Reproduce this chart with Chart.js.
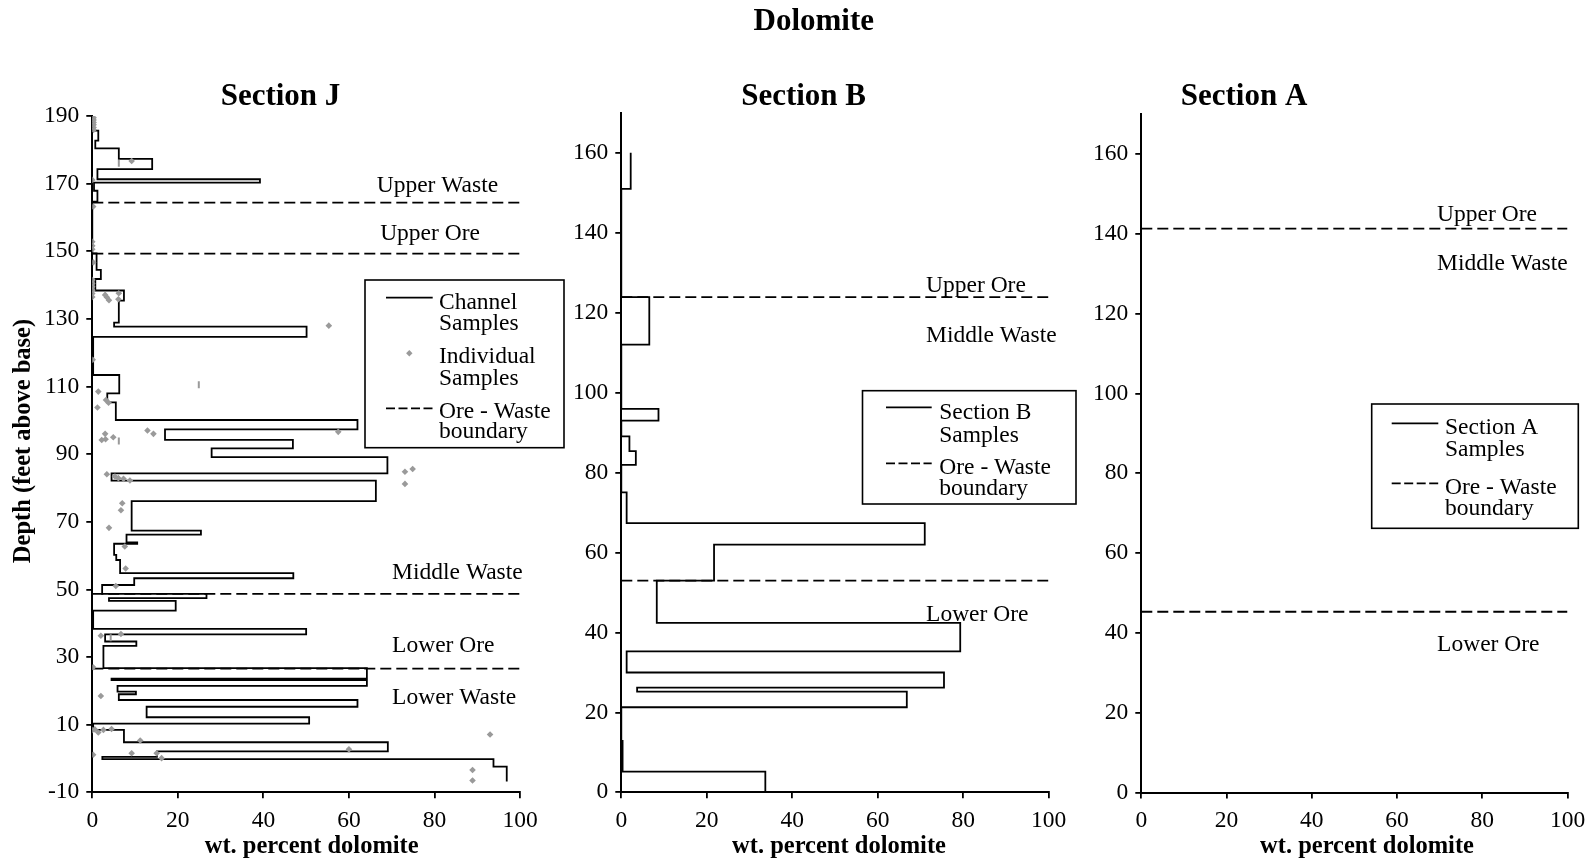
<!DOCTYPE html>
<html>
<head>
<meta charset="utf-8">
<title>Dolomite</title>
<script src="https://cdn.jsdelivr.net/npm/chart.js@4.4.1/dist/chart.umd.min.js"></script>
<style>
  html, body { margin: 0; padding: 0; background: #fff; }
  #wrap { position: relative; width: 1595px; height: 865px; overflow: hidden; background: #fff; }
  #wrap canvas { position: absolute; left: 0; top: 0; }
</style>
</head>
<body>
<div id="wrap">
  <canvas id="chartJ" width="1595" height="865"></canvas>
  <canvas id="chartB" width="1595" height="865"></canvas>
  <canvas id="chartA" width="1595" height="865"></canvas>
</div>
<script>
// ---------------- Section J ----------------
// Channel samples: interval breaks (feet above base, top to bottom) and wt.% dolomite of each interval
const jBreaks = [190, 185.7, 182.7, 180.4, 177.3, 174.3, 171.3, 170.3, 167.9, 164.7,
  149.4, 144.5, 141.8, 138.4, 135.4, 128.9, 127.7, 124.7, 113.4, 108,
  105.3, 100.1, 97.3, 94.2, 91.7, 89.1, 84.3, 82.2, 76.1, 67.4,
  66.2, 63.9, 63.5, 60.2, 58.7, 54.8, 53.3, 51.3, 48.7, 47.4,
  46.6, 43.7, 38.3, 36.7, 34.6, 33.3, 26.7, 23.6, 23.2, 21.5,
  19.8, 19.0, 17.3, 15.3, 12.2, 10.3, 8.45, 4.8, 2.1, 0.5,
  -0.2, -2.4, -6.8];
const jDolomite = [0, 1.4, 0.7, 6.2, 14, 1.2, 39.2, 0.4, 1.2, 0,
  1.0, 2.0, 0.7, 7.4, 6.2, 5.1, 50.1, 0.2, 6.3, 3.5,
  5.5, 62, 17, 46.9, 27.9, 69, 4.5, 66.3, 9.2, 25.4,
  8, 10.5, 5.1, 5.6, 6.5, 47, 9.8, 2.3, 26.7, 3.9,
  19.5, 0.2, 50, 3, 10.3, 2.6, 64.2, 4.5, 64.2, 5.9,
  10.2, 6.2, 62, 12.7, 50.7, 0.2, 7.4, 69.1, 15.1, 2.35,
  93.8, 96.9];
// Individual samples
const jSampleDolomite = [0.3, 0.3, 0.3, 0.3, 0.3, 0.3, 9.2, 0, 0.2, 0, 0, 0, 0.2,
  0, 0, 0, 0, 0, 0, 3, 3.4, 3.9, 6.2, 6.1, 55.3,
  0.1, 1.4, 1.2, 3.2, 3.8, 12.9, 14.3, 57.5, 2.2, 3.1, 3, 4.9,
  73.1, 74.9, 73.1, 3.4, 5.3, 6.1, 7.3, 8.8,
  7, 6.7, 3.9, 7.6, 7.8, 5.5, 2, 6.7, 0.2, 2,
  0, 0.6, 1.4, 2.6, 4.5, 11.2, 93, 60, 0.2, 9.2, 15.05, 16.2, 88.9, 88.9];
const jSampleDepth = [189.5, 188.8, 188.1, 187.4, 186.6, 185.9, 176.7, 171.1, 163.2, 152.8, 151.6, 150.6, 146.7,
  141.5, 140.5, 139.5, 138.5, 137.5, 136.5, 137.1, 136.4, 135.5, 137.6, 135.8, 128,
  117.9, 108.5, 103.8, 106, 105.2, 97, 96, 96.6, 94.2, 94.4, 96, 95,
  84.8, 85.6, 81.2, 84.05, 83.4, 82.9, 82.7, 82.2,
  75.5, 73.4, 68.2, 62.7, 56.2, 51, 36.3, 36.8, 27, 18.5,
  8.4, 8.6, 7.7, 8.45, 8.7, 5.3, 7.1, 2.7, 1.1, 1.55, 1.55, 0.1, -3.4, -6.5];
// Samples plotted with a bar marker
const jBarDolomite = [6.2, 24.9, 6.2, 4.3];
const jBarDepth = [176, 110.5, 93.9, 35.7];
// Ore - waste boundaries
const jBoundaries = [164.4, 149.3, 48.7, 26.6];
const jZones = ['Upper Waste', 'Upper Ore', 'Middle Waste', 'Lower Ore', 'Lower Waste'];

// ---------------- Section B ----------------
const bBreaks = [160.1, 151.1, 124, 112.1, 96, 93.05, 89.1, 85.4, 82.0, 75.1, 67.4,
  62, 53, 42.4, 35.3, 30, 26.2, 25.2, 21.3, 12.9, 5.2, 0];
const bDolomite = [2.2, 0, 6.55, 0, 8.7, 0, 1.9, 3.4, 0, 1.25,
  71, 21.7, 8.3, 79.3, 1.25, 75.5, 3.7, 66.8, 0, 0.3, 33.7];
const bBoundaries = [124, 53];
const bZones = ['Upper Ore', 'Middle Waste', 'Lower Ore'];

// ---------------- Section A ----------------
const aBreaks = [];
const aDolomite = [];
const aBoundaries = [141.3, 45.3];
const aZones = ['Upper Ore', 'Middle Waste', 'Lower Ore'];

const xTicks = { min: 0, max: 100, step: 20 };

// ---------------- styling ----------------
const SERIF = '"Liberation Serif", "Times New Roman", serif';
const TITLE_FONT = 'bold 31px ' + SERIF;
const AXIS_TITLE_FONT = 'bold 24.5px ' + SERIF;
const LABEL_FONT = '23.5px ' + SERIF;
const GREY = '#9a9a9a';

// builds the vertical step profile from interval breaks and values
function profile(breaks, values) {
  const pts = [];
  values.forEach((v, i) => {
    pts.push({ x: v, y: breaks[i] });
    pts.push({ x: v, y: breaks[i + 1] });
  });
  return pts;
}
function pairs(xs, ys) { return xs.map((x, i) => ({ x: x, y: ys[i] })); }

function boundaryDatasets(levels) {
  return levels.map(d => ({
    type: 'line', showLine: true, data: [{ x: xTicks.min, y: d }, { x: xTicks.max, y: d }],
    borderColor: '#000', borderWidth: 1.8, borderDash: [11, 5], pointRadius: 0, fill: false, order: 3
  }));
}
function profileDataset(breaks, values) {
  return {
    type: 'line', showLine: true, data: profile(breaks, values),
    borderColor: '#000', borderWidth: 1.8, pointRadius: 0, fill: false, tension: 0, order: 2
  };
}

// annotation plugin: titles, zone labels and the boxed key
function decor(cfg) {
  return {
    id: 'decor',
    afterDraw(chart) {
      const ctx = chart.ctx;
      const xs = chart.scales.x, ys = chart.scales.y;
      ctx.save();
      ctx.fillStyle = '#000';
      ctx.textBaseline = 'alphabetic';
      cfg.texts.forEach(t => {
        ctx.save();
        ctx.font = t.font;
        ctx.textAlign = t.align || 'center';
        ctx.translate(t.x, t.y);
        if (t.rot) ctx.rotate(t.rot);
        ctx.fillText(t.text, 0, 0);
        ctx.restore();
      });
      ctx.font = LABEL_FONT;
      ctx.textAlign = 'left';
      cfg.zones.forEach((name, i) => {
        const a = cfg.zoneAt[i];
        ctx.fillText(name, xs.getPixelForValue(a[0]), ys.getPixelForValue(a[1]));
      });
      const L = cfg.legend;
      ctx.strokeStyle = '#000';
      ctx.lineWidth = 1.6;
      ctx.strokeRect(L.box[0], L.box[1], L.box[2] - L.box[0], L.box[3] - L.box[1]);
      L.items.forEach(it => {
        if (it.kind === 'point') {
          const r = 3.2;
          ctx.fillStyle = GREY;
          ctx.beginPath();
          ctx.moveTo(it.cx, it.y - r); ctx.lineTo(it.cx + r, it.y);
          ctx.lineTo(it.cx, it.y + r); ctx.lineTo(it.cx - r, it.y);
          ctx.closePath(); ctx.fill();
          ctx.fillStyle = '#000';
        } else {
          ctx.lineWidth = 1.8;
          ctx.setLineDash(it.kind === 'dash' ? [9, 3.5] : []);
          ctx.beginPath();
          ctx.moveTo(L.x1, it.y); ctx.lineTo(L.x2, it.y);
          ctx.stroke();
          ctx.setLineDash([]);
        }
        ctx.font = LABEL_FONT;
        ctx.textAlign = 'left';
        it.lines.forEach((s, k) => ctx.fillText(s, L.tx, it.base[k]));
      });
      ctx.restore();
    }
  };
}

function axes(yMin, yMax, yStep) {
  const tickFont = { family: SERIF, size: 23.5 };
  const common = {
    type: 'linear',
    grid: { display: true, drawOnChartArea: false, drawTicks: true, tickLength: 6, color: '#000', lineWidth: 1.8 },
    border: { display: true, color: '#000', width: 2 }
  };
  return {
    x: Object.assign({}, common, {
      position: 'bottom', min: xTicks.min, max: xTicks.max, bounds: 'data',
      ticks: { stepSize: xTicks.step, font: tickFont, color: '#000', padding: 8, maxRotation: 0, autoSkip: false },
      afterFit: s => { s.height = 60; }
    }),
    y: Object.assign({}, common, {
      position: 'left', min: yMin, max: yMax, bounds: 'data',
      ticks: { stepSize: yStep, font: tickFont, color: '#000', padding: 7, autoSkip: false },
      // keep only ticks on the regular step grid counted from the axis minimum
      afterBuildTicks: s => { s.ticks = s.ticks.filter(t => Math.abs((t.value - yMin) % yStep) < 1e-6); },
      afterFit: s => { s.width = 80; }
    })
  };
}

function layoutFor(area) {
  return { padding: { left: area.l - 80, right: 1595 - area.r, top: area.t, bottom: 865 - area.b - 60 } };
}

function makeChart(id, area, datasets, yMin, yMax, deco) {
  return new Chart(document.getElementById(id), {
    type: 'scatter',
    data: { datasets: datasets },
    options: {
      responsive: false, animation: false, events: [],
      layout: layoutFor(area),
      scales: axes(yMin, yMax, 20),
      plugins: { legend: { display: false }, tooltip: { enabled: false }, title: { display: false } }
    },
    plugins: [decor(deco)]
  });
}

// ---------- Section J ----------
const areaJ = { l: 92.3, r: 520, t: 116, b: 792.3 };
makeChart('chartJ', areaJ, [
  { data: pairs(jSampleDolomite, jSampleDepth), pointStyle: 'rectRot', pointRadius: 3.3,
    backgroundColor: GREY, borderColor: GREY, borderWidth: 0, order: 1 },
  { data: pairs(jBarDolomite, jBarDepth), pointStyle: 'line', rotation: 90, pointRadius: 3.5,
    borderColor: GREY, borderWidth: 2, order: 1 },
  profileDataset(jBreaks, jDolomite)
].concat(boundaryDatasets(jBoundaries)), -10, 190, {
  texts: [
    { text: 'Dolomite', x: 813.8, y: 30, font: TITLE_FONT },
    { text: 'Section J', x: 280.5, y: 105, font: TITLE_FONT },
    { text: 'wt. percent dolomite', x: 311.7, y: 853, font: AXIS_TITLE_FONT },
    { text: 'Depth (feet above base)', x: 30, y: 441, font: AXIS_TITLE_FONT, rot: -Math.PI / 2 }
  ],
  zones: jZones,
  zoneAt: [[66.5, 167.6], [67.3, 153.3], [70.1, 53.1], [70.1, 31.6], [70.1, 16.1]],
  legend: {
    box: [365, 280, 564, 447.7], x1: 386, x2: 432.7, tx: 439,
    items: [
      { kind: 'line', y: 297.7, lines: ['Channel', 'Samples'], base: [309.3, 330] },
      { kind: 'point', cx: 409.3, y: 353.3, lines: ['Individual', 'Samples'], base: [363.3, 385] },
      { kind: 'dash', y: 408.3, lines: ['Ore - Waste', 'boundary'], base: [418.3, 438.3] }
    ]
  }
});

// ---------- Section B ----------
const areaB = { l: 621.3, r: 1048.7, t: 113.3, b: 792.3 };
makeChart('chartB', areaB, [profileDataset(bBreaks, bDolomite)].concat(boundaryDatasets(bBoundaries)),
  0, 170, {
  texts: [
    { text: 'Section B', x: 803.6, y: 105, font: TITLE_FONT },
    { text: 'wt. percent dolomite', x: 839, y: 853, font: AXIS_TITLE_FONT }
  ],
  zones: bZones,
  zoneAt: [[71.3, 125.2], [71.3, 112.7], [71.3, 42.9]],
  legend: {
    box: [862.5, 390.7, 1076, 504], x1: 886, x2: 931.7, tx: 939.3,
    items: [
      { kind: 'line', y: 407.3, lines: ['Section B', 'Samples'], base: [419.3, 441.7] },
      { kind: 'dash', y: 463.3, lines: ['Ore - Waste', 'boundary'], base: [474, 495] }
    ]
  }
});

// ---------- Section A ----------
const areaA = { l: 1141.3, r: 1567.5, t: 114, b: 792.6 };
makeChart('chartA', areaA, [profileDataset(aBreaks, aDolomite)].concat(boundaryDatasets(aBoundaries)),
  0, 170, {
  texts: [
    { text: 'Section A', x: 1244, y: 105, font: TITLE_FONT },
    { text: 'wt. percent dolomite', x: 1367, y: 853, font: AXIS_TITLE_FONT }
  ],
  zones: aZones,
  zoneAt: [[69.4, 143.3], [69.4, 131], [69.4, 35.5]],
  legend: {
    box: [1371.7, 404, 1578.3, 528.3], x1: 1391.7, x2: 1438.3, tx: 1445,
    items: [
      { kind: 'line', y: 423.3, lines: ['Section A', 'Samples'], base: [434.3, 456] },
      { kind: 'dash', y: 483.3, lines: ['Ore - Waste', 'boundary'], base: [494, 515] }
    ]
  }
});
</script>
</body>
</html>
